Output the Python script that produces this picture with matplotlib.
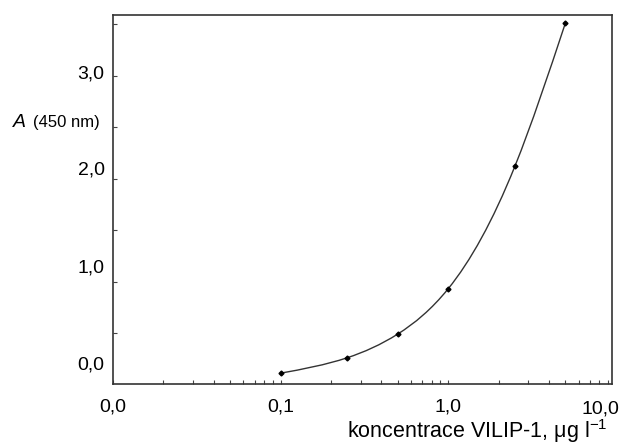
import numpy as np
import matplotlib.pyplot as plt
from matplotlib.path import Path
from matplotlib.patches import PathPatch
from matplotlib.ticker import FixedLocator, NullFormatter, LogLocator

plt.rcParams['font.family'] = ['Liberation Sans', 'DejaVu Sans']

# data
konc = [0.1, 0.25, 0.5, 1.0, 2.5, 5.0]
absorbance = [0.11, 0.26, 0.49, 0.93, 2.12, 3.51]

x_ticks = [0.01, 0.1, 1.0]
x_labels = ["0,0", "0,1", "1,0"]
x_last_label = "10,0"
# the original labels sit slightly off the tick marks
y_label_pos = [0.21, 1.15, 2.10, 3.04]
y_labels = ["0,0", "1,0", "2,0", "3,0"]


def spline_path(x, y):
    # natural cubic spline in (log x, y), drawn as bezier segments
    t = np.log10(x)
    y = np.asarray(y, dtype=float)
    n = len(t)
    h = np.diff(t)
    A = np.zeros((n, n))
    r = np.zeros(n)
    A[0, 0] = A[-1, -1] = 1
    for i in range(1, n - 1):
        A[i, i - 1] = h[i - 1]
        A[i, i] = 2 * (h[i - 1] + h[i])
        A[i, i + 1] = h[i]
        r[i] = 6 * ((y[i + 1] - y[i]) / h[i] - (y[i] - y[i - 1]) / h[i - 1])
    M = np.linalg.solve(A, r)
    verts = [(x[0], y[0])]
    codes = [Path.MOVETO]
    for i in range(n - 1):
        s = (y[i + 1] - y[i]) / h[i]
        d0 = s - h[i] * (2 * M[i] + M[i + 1]) / 6
        d1 = s + h[i] * (M[i] + 2 * M[i + 1]) / 6
        c1 = (t[i] + h[i] / 3, y[i] + d0 * h[i] / 3)
        c2 = (t[i + 1] - h[i] / 3, y[i + 1] - d1 * h[i] / 3)
        for c in (c1, c2, (t[i + 1], y[i + 1])):
            verts.append((10 ** c[0], c[1]))
            codes.append(Path.CURVE4)
    return Path(verts, codes)


fig = plt.figure(figsize=(6.21, 4.45), dpi=100)
ax = fig.add_axes([0.182, 0.136, 0.8035, 0.83])

ax.set_xscale('log')
ax.set_xlim(0.01, 9.5)
ax.set_ylim(0, 3.59)

ax.add_patch(PathPatch(spline_path(konc, absorbance), fill=False,
                       edgecolor='#333333', lw=1.0))
ax.plot(konc, absorbance, linestyle='none', marker='D', ms=2.5,
        color='black')

ax.set_xticks(x_ticks)
ax.set_xticklabels(x_labels)
ax.xaxis.set_minor_locator(LogLocator(base=10, subs=np.arange(2, 10)))
ax.xaxis.set_minor_formatter(NullFormatter())
ax.tick_params(axis='x', which='both', direction='in', length=3,
               width=0.8, color='#444444', labelsize=14, pad=10,
               top=False)
ax.annotate(x_last_label, xy=(1.0, 0), xycoords='axes fraction',
            xytext=(5, -18), textcoords='offset points',
            ha='right', va='center', fontsize=14)

ax.set_yticks(y_label_pos)
ax.set_yticklabels(y_labels)
ax.yaxis.set_minor_locator(FixedLocator(np.arange(0.5, 3.6, 0.5)))
ax.tick_params(axis='y', which='major', length=0, labelsize=14, pad=6)
ax.tick_params(axis='y', which='minor', direction='in', length=3,
               width=0.8, color='#444444', right=False)

for s in ax.spines.values():
    s.set_color('#333333')
    s.set_linewidth(1.2)

fig.text(0.021, 0.724, "A", fontsize=14, style='italic', va='center')
fig.text(0.053, 0.724, "(450 nm)", fontsize=12, va='center')
fig.text(0.978, 0.015,
         r"koncentrace VILIP-1, $\mathregular{\mu}$g l$^{\mathregular{-1}}$",
         fontsize=15.5, ha='right', va='baseline')

fig.savefig('out.png', dpi=100)
